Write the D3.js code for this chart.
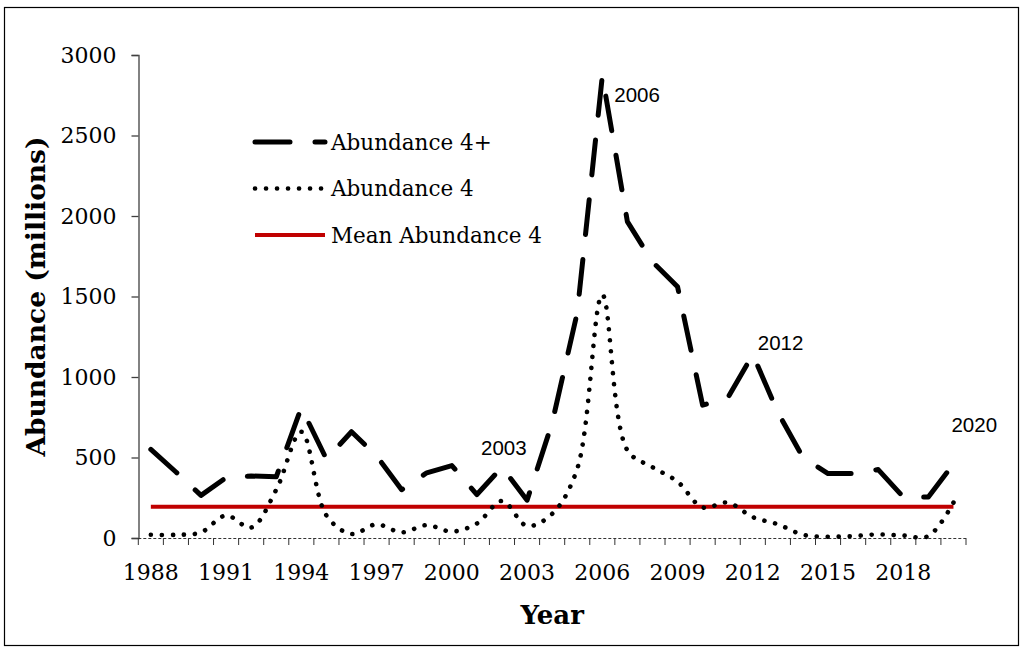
<!DOCTYPE html>
<html>
<head>
<meta charset="utf-8">
<script src="https://cdn.jsdelivr.net/npm/d3@7"></script>
<style>
  body { margin: 0; background: #fff; }
  svg { display: block; }
</style>
</head>
<body>
<svg></svg>
<script>
const w = 1024;
const h = 650;

const years = d3.range(1988, 2021);
const abundance4plus = [550, 410, 265, 375, 385, 380, 810, 490, 660, 510, 300, 405, 450, 270, 440, 235, 715, 1400, 2870, 1965, 1715, 1560, 825, 870, 1140, 780, 500, 400, 400, 425, 255, 255, 460];
const abundance4 = [20, 20, 35, 140, 65, 300, 660, 140, 25, 85, 35, 80, 40, 90, 230, 75, 150, 430, 1510, 545, 440, 350, 190, 220, 130, 85, 20, 8, 12, 22, 15, 12, 220];
const meanAbundance4 = 194;
const yTicks = [0, 500, 1000, 1500, 2000, 2500, 3000];
const xLabelYears = [1988, 1991, 1994, 1997, 2000, 2003, 2006, 2009, 2012, 2015, 2018];
const annotatedYears = [2003, 2006, 2012, 2020];
const legendNames = ['Abundance 4+', 'Abundance 4', 'Mean Abundance 4'];

const svg = d3.select('svg').attr('width', w).attr('height', h);

// outer frame
svg
  .append('rect')
  .attr('x', 4.5)
  .attr('y', 7.5)
  .attr('width', 1014)
  .attr('height', 638)
  .attr('fill', 'none')
  .attr('stroke', '#000')
  .attr('stroke-width', 1.2);

const x = d3.scaleBand().domain(years).range([138.3, 966]);
const y = d3.scaleLinear().domain([0, 3000]).range([538, 55]);
const cx = d => x(d) + x.bandwidth() / 2;

// y axis
const yAxis = svg
  .append('g')
  .attr('transform', 'translate(138.5,0)')
  .call(d3.axisLeft(y).tickValues(yTicks).tickSize(7).tickPadding(15).tickFormat(d3.format('d')));
yAxis.select('.domain').attr('stroke', '#595959').attr('stroke-width', 1.5);
yAxis.selectAll('.tick line').attr('stroke', '#404040').attr('stroke-width', 1.3);
yAxis
  .selectAll('.tick text')
  .attr('fill', '#000')
  .style('font-family', 'DejaVu Serif')
  .style('font-size', '22px');

// x axis: dashed baseline, ticks at category boundaries, labels every third year
svg
  .append('line')
  .attr('x1', x.range()[0])
  .attr('x2', x.range()[1])
  .attr('y1', y(0) + 0.5)
  .attr('y2', y(0) + 0.5)
  .attr('stroke', '#333')
  .attr('stroke-width', 1)
  .attr('stroke-dasharray', '3,2');

const tickPos = years.map(d => x(d)).concat([x.range()[1]]);
svg
  .selectAll('.xtick')
  .data(tickPos)
  .enter()
  .append('line')
  .attr('class', 'xtick')
  .attr('x1', d => d)
  .attr('x2', d => d)
  .attr('y1', y(0))
  .attr('y2', y(0) + 7)
  .attr('stroke', '#333')
  .attr('stroke-width', 1);

svg
  .selectAll('.xlabel')
  .data(xLabelYears)
  .enter()
  .append('text')
  .attr('class', 'xlabel')
  .attr('x', d => cx(d))
  .attr('y', 580)
  .attr('text-anchor', 'middle')
  .style('font-family', 'DejaVu Serif')
  .style('font-size', '22px')
  .text(d => d);

// axis titles
svg
  .append('text')
  .attr('x', (x.range()[0] + x.range()[1]) / 2)
  .attr('y', 624)
  .attr('text-anchor', 'middle')
  .style('font-family', 'DejaVu Serif')
  .style('font-weight', 'bold')
  .style('font-size', '26px')
  .text('Year');

svg
  .append('text')
  .attr('transform', `translate(45,${(y(0) + y(3000)) / 2}) rotate(-90)`)
  .attr('text-anchor', 'middle')
  .style('font-family', 'DejaVu Serif')
  .style('font-weight', 'bold')
  .style('font-size', '26.5px')
  .text('Abundance (millions)');

// mean line
svg
  .append('line')
  .attr('x1', cx(years[0]))
  .attr('x2', cx(years[years.length - 1]))
  .attr('y1', y(meanAbundance4))
  .attr('y2', y(meanAbundance4))
  .attr('stroke', '#c00000')
  .attr('stroke-width', 4);

// abundance 4 (dotted, smoothed)
const smooth = d3
  .line()
  .x((d, i) => cx(years[i]))
  .y(d => y(d))
  .curve(d3.curveCatmullRom.alpha(0.5));

svg
  .append('path')
  .attr('d', smooth(abundance4))
  .attr('fill', 'none')
  .attr('stroke', '#000')
  .attr('stroke-width', 4.6)
  .attr('stroke-linecap', 'round')
  .attr('stroke-dasharray', '0.1,10.9');

// abundance 4+ (long dash)
const straight = d3
  .line()
  .x((d, i) => cx(years[i]))
  .y(d => y(d));

svg
  .append('path')
  .attr('d', straight(abundance4plus))
  .attr('fill', 'none')
  .attr('stroke', '#000')
  .attr('stroke-width', 5)
  .attr('stroke-linecap', 'round')
  .attr('stroke-linejoin', 'round')
  .attr('stroke-dasharray', '35,25');

// year annotations
const annOffset = { 2003: [-46, -45], 2006: [12, 26], 2012: [5, -4], 2020: [-2, -32] };
svg
  .selectAll('.ann')
  .data(annotatedYears)
  .enter()
  .append('text')
  .attr('class', 'ann')
  .attr('x', d => cx(d) + annOffset[d][0])
  .attr('y', d => y(abundance4plus[years.indexOf(d)]) + annOffset[d][1])
  .style('font-family', 'Liberation Sans')
  .style('font-size', '20.5px')
  .text(d => d);

// legend
const legend = svg.append('g').attr('transform', 'translate(255,142)');
const legendRow = 46.5;

legend
  .append('path')
  .attr('d', 'M0,0H70')
  .attr('stroke', '#000')
  .attr('stroke-width', 5)
  .attr('stroke-linecap', 'round')
  .attr('stroke-dasharray', '35,25');

legend
  .append('path')
  .attr('d', `M0,${legendRow}H70`)
  .attr('stroke', '#000')
  .attr('stroke-width', 4.6)
  .attr('stroke-linecap', 'round')
  .attr('stroke-dasharray', '0.1,10.9');

legend
  .append('path')
  .attr('d', `M0,${legendRow * 2}H70`)
  .attr('stroke', '#c00000')
  .attr('stroke-width', 4);

legend
  .selectAll('text')
  .data(legendNames)
  .enter()
  .append('text')
  .attr('x', 76)
  .attr('y', (d, i) => i * legendRow + 7.5)
  .style('font-family', 'DejaVu Serif')
  .style('font-size', '21.5px')
  .text(d => d);
</script>
</body>
</html>
